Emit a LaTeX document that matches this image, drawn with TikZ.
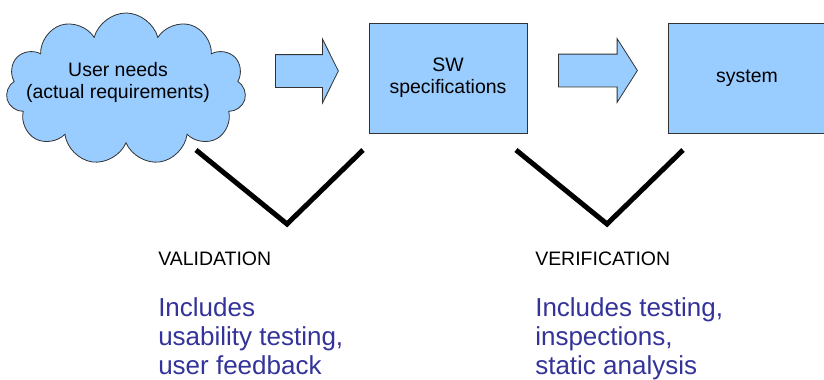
\documentclass[tikz,border=0pt]{standalone}
\usepackage{fontspec}
\setmainfont{Liberation Sans}
\usetikzlibrary{shapes.symbols}
\usetikzlibrary{shapes.arrows}
\usetikzlibrary{positioning}
\definecolor{skyfill}{HTML}{99CCFF}
\definecolor{noteblue}{HTML}{333399}
\tikzset{
    needcloud/.style = {cloud, cloud puffs=11, cloud ignores aspect, draw=black!80, line width=0.6pt, fill=skyfill, minimum width=180pt, minimum height=114pt, inner sep=0pt},
    stagebox/.style = {rectangle, draw=black!80, line width=0.6pt, fill=skyfill, minimum width=118.5pt, minimum height=82.5pt, align=center, font=\fontsize{14.6}{16.5}\selectfont},
    flowarrow/.style = {single arrow, draw=black!80, line width=0.6pt, fill=skyfill, inner xsep=0pt, inner ysep=12pt, single arrow head extend=11.6pt, anchor=tail},
    vline/.style = {line width=3.75pt, black, line join=miter},
    headtxt/.style = {inner sep=0pt, anchor=base west, font=\fontsize{14.6}{16.5}\selectfont},
    notetxt/.style = {inner sep=0pt, anchor=base west, align=left, text=noteblue, font=\fontsize{19.5}{21.75}\selectfont}
}
\begin{document}
\begin{tikzpicture}[x=0.75pt,y=-0.75pt]
  \clip (0,0) rectangle (824,379);
  % top row
  \node[needcloud] (needs) at (126,89) {};
  \node[align=center, inner sep=0pt, anchor=base, font=\fontsize{14.6}{16.5}\selectfont] (needtxt) at (118,98) {User needs\\(actual requirements)};
  \node[flowarrow, minimum height=47.25pt, single arrow tip angle=127] (arrspec) at (275,71) {};
  \node[stagebox] (spec) at (448,78) {SW\\specifications};
  \node[flowarrow, minimum height=59.25pt, single arrow tip angle=115] (arrsys) at (558,70.5) {};
  \node[stagebox] (sys) at (747,78) {system};
  % the two V marks
  \coordinate (valA) at (196,150);
  \coordinate (valB) at (287,224);
  \coordinate (valC) at (363,150);
  \coordinate (verA) at (516,150);
  \coordinate (verB) at (607,224);
  \coordinate (verC) at (683,150);
  \draw[vline] (valA) -- (valB) -- (valC);
  \draw[vline] (verA) -- (verB) -- (verC);
  % captions
  \node[headtxt] (valid) at (158,265) {VALIDATION};
  \node[notetxt] (validnote) at ([yshift=-81.75pt]valid.base west) {Includes\\usability testing,\\user feedback};
  \node[headtxt] (verif) at (535,265) {VERIFICATION};
  \node[notetxt] (verifnote) at ([yshift=-81.75pt]verif.base west) {Includes testing,\\inspections,\\static analysis};
\end{tikzpicture}
\end{document}
